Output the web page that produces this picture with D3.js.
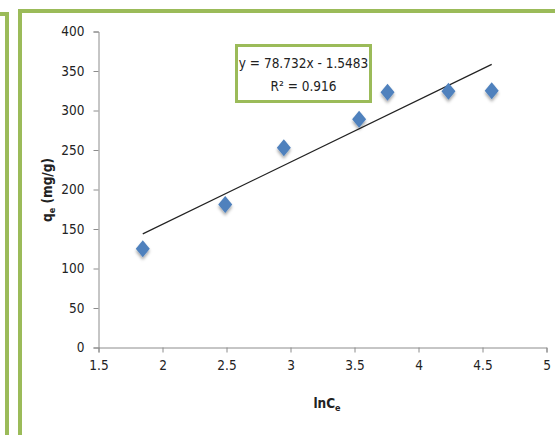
<!DOCTYPE html>
<html><head><meta charset="utf-8">
<script src="https://cdn.jsdelivr.net/npm/d3@7"></script>
<style>body{margin:0;background:#fff;}svg{display:block;}</style>
</head><body>
<script>
const xValues = [1.846, 2.49, 2.948, 3.536, 3.758, 4.234, 4.572];
const yValues = [125, 181, 253, 289, 323, 324.5, 325];
const xTicks = [1.5, 2, 2.5, 3, 3.5, 4, 4.5, 5];
const yTicks = [0, 50, 100, 150, 200, 250, 300, 350, 400];
const slope = 78.732, intercept = -1.5483;
const eqLine1 = "y = 78.732x - 1.5483";
const eqLine2 = "R² = 0.916";

const W = 555, H = 435;
const green = "#9BBB59";
const font = "'DejaVu Sans Condensed','DejaVu Sans',sans-serif";
const svg = d3.select("body").append("svg").attr("width", W).attr("height", H);

// frames
svg.append("path").attr("d", "M0,14 H7 V435").attr("fill", "none").attr("stroke", green).attr("stroke-width", 4);
svg.append("path").attr("d", "M20,435 V11 H555").attr("fill", "none").attr("stroke", green).attr("stroke-width", 4);

const x = d3.scaleLinear().domain([1.5, 5]).range([98.5, 546.5]);
const y = d3.scaleLinear().domain([0, 400]).range([347.5, 31.5]);

const gx = svg.append("g").attr("transform", "translate(0,347.5)")
  .call(d3.axisBottom(x).tickValues(xTicks).tickSize(5).tickPadding(8).tickFormat(d3.format("")));
const gy = svg.append("g").attr("transform", "translate(98.5,0)")
  .call(d3.axisLeft(y).tickValues(yTicks).tickSize(5).tickPadding(9));
[gx, gy].forEach(g => {
  g.select(".domain").attr("stroke", "#8c8c8c");
  g.selectAll(".tick line").attr("stroke", "#8c8c8c");
  g.selectAll(".tick text").attr("fill", "#222").style("font-family", font).style("font-size", "13.5px");
});

// trendline
const x0 = d3.min(xValues), x1 = d3.max(xValues);
svg.append("line")
  .attr("x1", x(x0)).attr("y1", y(slope * x0 + intercept))
  .attr("x2", x(x1)).attr("y2", y(slope * x1 + intercept))
  .attr("stroke", "#222").attr("stroke-width", 1.2);

// shadow filter
const defs = svg.append("defs");
const f = defs.append("filter").attr("id", "sh").attr("x", "-50%").attr("y", "-50%").attr("width", "200%").attr("height", "200%");
f.append("feDropShadow").attr("dx", 0).attr("dy", 2.5).attr("stdDeviation", 1.5).attr("flood-color", "#000").attr("flood-opacity", 0.35);

const diamond = "M0,-8.5 L7,0 L0,8.5 L-7,0 Z";
svg.append("g").selectAll("path").data(xValues).join("path")
  .attr("d", diamond)
  .attr("transform", (d, i) => `translate(${x(d)},${y(yValues[i])})`)
  .attr("fill", "#4F81BD").attr("filter", "url(#sh)");

// equation box
svg.append("rect").attr("x", 236.5).attr("y", 45.5).attr("width", 134).attr("height", 56)
  .attr("fill", "#fff").attr("stroke", green).attr("stroke-width", 3);
svg.append("text").attr("x", 303.5).attr("y", 67.5).attr("text-anchor", "middle")
  .style("font-family", font).style("font-size", "13.5px").attr("fill", "#222").text(eqLine1);
svg.append("text").attr("x", 303.5).attr("y", 90.5).attr("text-anchor", "middle")
  .style("font-family", font).style("font-size", "13.5px").attr("fill", "#222").text(eqLine2);

// axis titles
const xt = svg.append("text").attr("x", 327).attr("y", 408).attr("text-anchor", "middle")
  .style("font-family", font).style("font-size", "13.5px").style("font-weight", "bold").attr("fill", "#222");
xt.append("tspan").text("lnC");
xt.append("tspan").attr("dy", 3).style("font-size", "9px").text("e");

const yt = svg.append("text").attr("transform", "translate(52,190) rotate(-90)").attr("text-anchor", "middle")
  .style("font-family", font).style("font-size", "13.5px").style("font-weight", "bold").attr("fill", "#222");
yt.append("tspan").text("q");
yt.append("tspan").attr("dy", 3).style("font-size", "9px").text("e");
yt.append("tspan").attr("dy", -3).text(" (mg/g)");
</script>
</body></html>
